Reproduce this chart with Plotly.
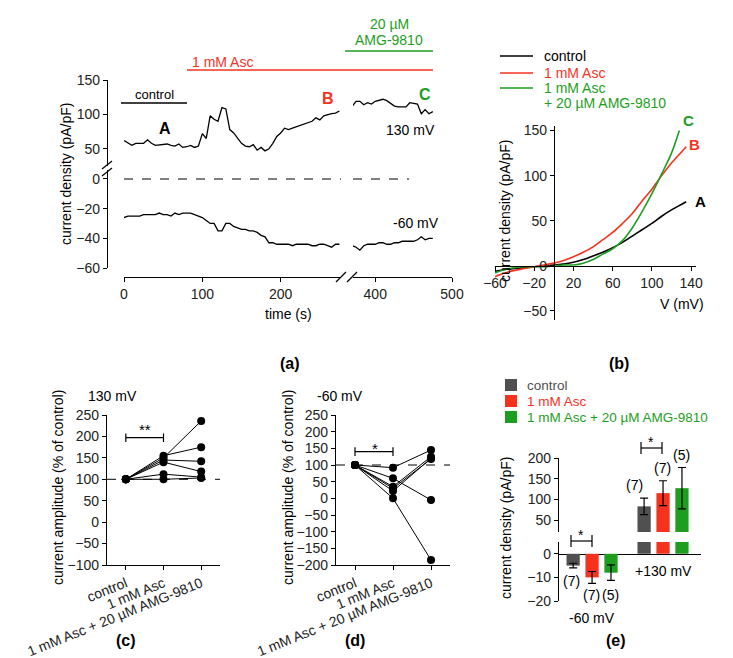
import plotly.graph_objects as go

W, H = 733, 658
RED = "#f5321e"
GREEN = "#1e9e1e"
GRAY = "#505050"
FONT = "Liberation Sans"

# ---- panel (a): time course
t_left = list(range(0, 280, 5))
i130_left = [62, 58, 55, 58, 58, 58, 63, 58, 55, 56, 56, 57, 55, 54, 57, 52, 53, 55, 52, 54,
             72, 65, 98, 93, 90, 110, 108, 78, 73, 65, 58, 54, 53, 56, 48, 52, 47, 50, 58, 68,
             73, 80, 78, 80, 82, 85, 86, 88, 90, 95, 92, 98, 100, 101, 102, 105]
i60_left = [-26, -25, -25, -25, -25, -24, -24, -24, -24, -23, -24, -24, -25, -23, -24, -23, -23, -23, -24, -25,
            -26, -28, -30, -30, -35, -35, -30, -30, -32, -33, -34, -34, -35, -35, -36, -38, -39, -43, -43, -44,
            -44, -44, -44, -45, -44, -44, -44, -44, -45, -45, -44, -44, -45, -46, -44, -44]
t_right = list(range(370, 480, 5))
i130_right = [112, 119, 119, 114, 117, 115, 119, 121, 122, 120, 116, 112, 111, 111, 111, 117, 116, 115, 101, 107, 101, 104]
i60_right = [-45, -46, -48, -45, -44, -44, -44, -43, -43, -44, -44, -43, -43, -42, -42, -42, -42, -41, -39, -41, -40, -40]

# ---- panel (b): I-V curves
v_ctrl = [-60, -50, -40, -30, -20, -10, 0, 10, 20, 30, 40, 50, 60, 70, 80, 90, 100, 110, 120, 130, 135]
i_ctrl = [-6, -4, -3, -2, -1, 0, 1, 2, 4, 7, 11, 15, 20, 26, 33, 40, 47, 55, 62, 68, 71]
v_asc = [-60, -50, -40, -30, -20, -10, 0, 10, 20, 30, 40, 50, 60, 70, 80, 90, 100, 110, 120, 130, 135]
i_asc = [-12, -8, -5, -3, -1, 1, 3, 6, 10, 15, 21, 29, 37, 47, 58, 72, 85, 100, 114, 126, 132]
v_amg = [-60, -50, -40, -30, -20, -10, 0, 10, 20, 30, 40, 50, 60, 70, 80, 90, 100, 110, 120, 125, 128]
i_amg = [-8, -4, -2, -1, -1, -1, 0, 1, 1, 3, 7, 13, 19, 28, 42, 60, 80, 102, 125, 140, 150]

# ---- panels (c), (d): paired cells
conditions = ["control", "1 mM Asc", "1 mM Asc + 20 µM AMG-9810"]
cells_130 = [[100, 150, 236], [100, 155, 175], [100, 145, 142], [100, 140, 118], [100, 112, 105], [100, 100, 103]]
cells_60 = [[100, 92, 145], [100, 60, -5], [100, 35, 125], [100, 30, 118], [100, 22, 120], [100, 0, -185]]

# ---- panel (e): means
groups = ["-60 mV", "+130 mV"]
series = ["control", "1 mM Asc", "1 mM Asc + 20 µM AMG-9810"]
means = [[-5, 83], [-10, 115], [-8, 127]]
sems = [[1, 20], [2.5, 30], [3.3, 50]]
bar_colors = [GRAY, RED, GREEN]


def px(x):
    return x / W


def py(y):
    return 1 - y / H


def dx(a, b):
    return [a / W, b / W]


def dy(top, bottom):
    return [1 - bottom / H, 1 - top / H]


fig = go.Figure()
line = dict(color="black", width=1.3)

# (a)
fig.add_trace(go.Scatter(x=t_left, y=i130_left, xaxis="x", yaxis="y", mode="lines", line=line))
fig.add_trace(go.Scatter(x=t_right, y=i130_right, xaxis="x2", yaxis="y", mode="lines", line=line))
fig.add_trace(go.Scatter(x=t_left, y=i60_left, xaxis="x", yaxis="y2", mode="lines", line=line))
fig.add_trace(go.Scatter(x=t_right, y=i60_right, xaxis="x2", yaxis="y2", mode="lines", line=line))

# (b)
for v, i, c in [(v_ctrl, i_ctrl, "black"), (v_asc, i_asc, RED), (v_amg, i_amg, GREEN)]:
    fig.add_trace(go.Scatter(x=v, y=i, xaxis="x3", yaxis="y3", mode="lines",
                             line=dict(color=c, width=1.6, shape="spline")))

# (c), (d)
for cells, xa, ya in [(cells_130, "x4", "y4"), (cells_60, "x5", "y5")]:
    for c in cells:
        fig.add_trace(go.Scatter(x=[0, 1, 2], y=c, xaxis=xa, yaxis=ya, mode="lines+markers",
                                 line=dict(color="black", width=1), marker=dict(color="black", size=8)))

# (e)
for k in range(3):
    for ya in ["y6", "y7"]:
        fig.add_trace(go.Bar(x=groups, y=means[k], xaxis="x6", yaxis=ya, offsetgroup=str(k),
                             marker=dict(color=bar_colors[k], line_width=0),
                             error_y=dict(type="data", array=sems[k], color="black", thickness=1.2, width=4)))

tick = dict(family=FONT, size=14, color="#222")
ax = dict(showline=True, linecolor="black", linewidth=1.2, ticks="outside", ticklen=4,
          tickcolor="black", tickfont=tick, showgrid=False, zeroline=False, automargin=False)

fig.update_layout(
    width=W, height=H, margin=dict(l=0, r=0, t=0, b=0),
    plot_bgcolor="white", paper_bgcolor="white", showlegend=False,
    font=dict(family=FONT, color="black"),
    barmode="group", bargap=0.2, bargroupgap=0.3,
    xaxis=dict(ax, domain=dx(116, 333), range=[0, 277], tickvals=[0, 100, 200],
               anchor="free", position=py(269)),
    xaxis2=dict(ax, domain=dx(345, 444), range=[371, 500], tickvals=[400, 500],
                anchor="free", position=py(269)),
    yaxis=dict(ax, domain=dy(72, 158), range=[25, 150], tickvals=[50, 100, 150],
               anchor="free", position=px(99)),
    yaxis2=dict(ax, domain=dy(162, 260), range=[-60, 6], tickvals=[0, -20, -40, -60],
                anchor="free", position=px(99)),
    xaxis3=dict(ax, domain=dx(487, 688), range=[-60, 145], tickvals=[-60, -20, 20, 60, 100, 140],
                anchor="free", position=py(258)),
    yaxis3=dict(ax, domain=dy(118, 312), range=[-60, 155], tickvals=[-50, 0, 50, 100, 150],
                anchor="free", position=px(546)),
    xaxis4=dict(ax, domain=dx(99, 212), range=[-0.5, 2.5], tickvals=[0, 1, 2], ticktext=conditions,
                tickangle=-22, anchor="y4"),
    yaxis4=dict(ax, domain=dy(407, 557), range=[-100, 250], dtick=50, anchor="x4"),
    xaxis5=dict(ax, domain=dx(328, 442), range=[-0.5, 2.5], tickvals=[0, 1, 2], ticktext=conditions,
                tickangle=-22, anchor="y5"),
    yaxis5=dict(ax, domain=dy(407, 557), range=[-200, 250], dtick=50, anchor="x5"),
    xaxis6=dict(ax, domain=dx(550, 693), range=[-0.48, 1.535], showticklabels=False, ticks="",
                anchor="free", position=py(546)),
    yaxis6=dict(ax, domain=dy(450, 524), range=[21, 200], tickvals=[50, 100, 150, 200],
                anchor="free", position=px(550)),
    yaxis7=dict(ax, domain=dy(534, 593), range=[-20, 5], tickvals=[0, -10, -20],
                anchor="free", position=px(550)),
)

shapes = []
ann = []


def text(x, y, s, size=14, color="black", bold=False, xanchor="center", angle=0):
    if bold:
        s = "<b>" + s + "</b>"
    ann.append(dict(x=px(x), y=py(y), xref="paper", yref="paper", text=s, showarrow=False,
                    font=dict(family=FONT, size=size, color=color), xanchor=xanchor,
                    yanchor="middle", textangle=angle))


def seg(x0, y0, x1, y1, color="black", width=1.3, dash="solid", xref="paper", yref="paper"):
    if xref == "paper":
        x0, x1 = px(x0), px(x1)
    if yref == "paper":
        y0, y1 = py(y0), py(y1)
    shapes.append(dict(type="line", x0=x0, y0=y0, x1=x1, y1=y1, xref=xref, yref=yref,
                       line=dict(color=color, width=width, dash=dash)))


# (a) annotations
seg(0, 171, 277, 171, dash="dash", width=1, xref="x", yref="paper")
seg(371, 171, 444 / 1, 171, dash="dash", width=1, xref="x2", yref="paper")
seg(113, 95, 179, 95, width=1.3)
text(146, 86, "control", 13)
text(157, 120, "A", 16, bold=True)
text(320, 90, "B", 16, RED, bold=True)
text(417, 87, "C", 16, GREEN, bold=True)
text(402, 122, "130 mV", 14)
text(408, 215, "-60 mV", 14)
seg(179, 62, 425, 62, RED, 1.6)
text(182, 54, "1 mM Asc", 14, RED, xanchor="left")
seg(337, 43, 425, 43, GREEN, 1.6)
text(381, 16, "20 µM", 14, GREEN)
text(381, 32, "AMG-9810", 14, GREEN)
for yb in [157, 164]:
    seg(94, yb + 4, 104, yb - 4, width=1.2)
for xb in [328, 339]:
    seg(xb, 274, xb + 10, 264, width=1.2)
text(280, 306, "time (s)", 14)
text(58, 166, "current density (pA/pF)", 14, angle=-90)
text(282, 355, "(a)", 16, bold=True)

# (b) annotations
for yl, col, lab in [(48, "black", "control"), (65, RED, "1 mM Asc"), (80, GREEN, "1 mM Asc")]:
    seg(492, yl, 525, yl, col, 1.6)
    text(534, yl, lab, 14, col, xanchor="left")
text(534, 95, "+ 20 µM AMG-9810", 14, GREEN, xanchor="left")
text(692, 193, "A", 15, bold=True)
text(686, 136, "B", 15, RED, bold=True)
text(680, 112, "C", 15, GREEN, bold=True)
text(698, 296, "V (mV)", 14, xanchor="right")
text(497, 203, "current density (pA/pF)", 14, angle=-90)
text(611, 355, "(b)", 16, bold=True)

# (c), (d)
seg(-0.5, 100, 2.5, 100, dash="dash", width=1, xref="x4", yref="y4")
seg(-0.5, 100, 2.5, 100, dash="dash", width=1, xref="x5", yref="y5")
for xa, ya, yb, h in [("x4", "y4", 197, 10), ("x5", "y5", 140, 13)]:
    seg(0, yb, 1, yb, width=1.2, xref=xa, yref=ya)
    seg(0, yb - h, 0, yb + h, width=1.2, xref=xa, yref=ya)
    seg(1, yb - h, 1, yb + h, width=1.2, xref=xa, yref=ya)
text(137, 421, "**", 15)
text(367, 440, "*", 15)
text(78, 388, "130 mV", 14, xanchor="left")
text(307, 388, "-60 mV", 14, xanchor="left")
text(50, 480, "current amplitude (% of control)", 14, angle=-90)
text(280, 480, "current amplitude (% of control)", 14, angle=-90)
text(118, 632, "(c)", 16, bold=True)
text(347, 632, "(d)", 16, bold=True)

# (e)
for k, (lab, col) in enumerate(zip(series, bar_colors)):
    yl = 377 + 16 * k
    shapes.append(dict(type="rect", x0=px(497), x1=px(509), y0=py(yl + 6), y1=py(yl - 6),
                       xref="paper", yref="paper", fillcolor=col, line_width=0))
    text(517, yl, lab, 13.5, col, xanchor="left")
for x, y, s in [(563, 573, "(7)"), (583, 587, "(7)"), (602, 587, "(5)"),
                (626, 477, "(7)"), (654, 460, "(7)"), (673, 447, "(5)")]:
    text(x, y, s, 14)
seg(563, 533, 584, 533, width=1.2)
seg(563, 527, 563, 539, width=1.2)
seg(584, 527, 584, 539, width=1.2)
text(573, 527, "*", 14)
seg(633, 440, 654, 440, width=1.2)
seg(633, 434, 633, 446, width=1.2)
seg(654, 434, 654, 446, width=1.2)
text(643, 434, "*", 14)
text(584, 610, "-60 mV", 14)
text(655, 563, "+130 mV", 14)
text(498, 520, "current density (pA/pF)", 14, angle=-90)
text(608, 632, "(e)", 16, bold=True)

fig.update_layout(shapes=shapes, annotations=ann)
fig.write_html("out.html")
